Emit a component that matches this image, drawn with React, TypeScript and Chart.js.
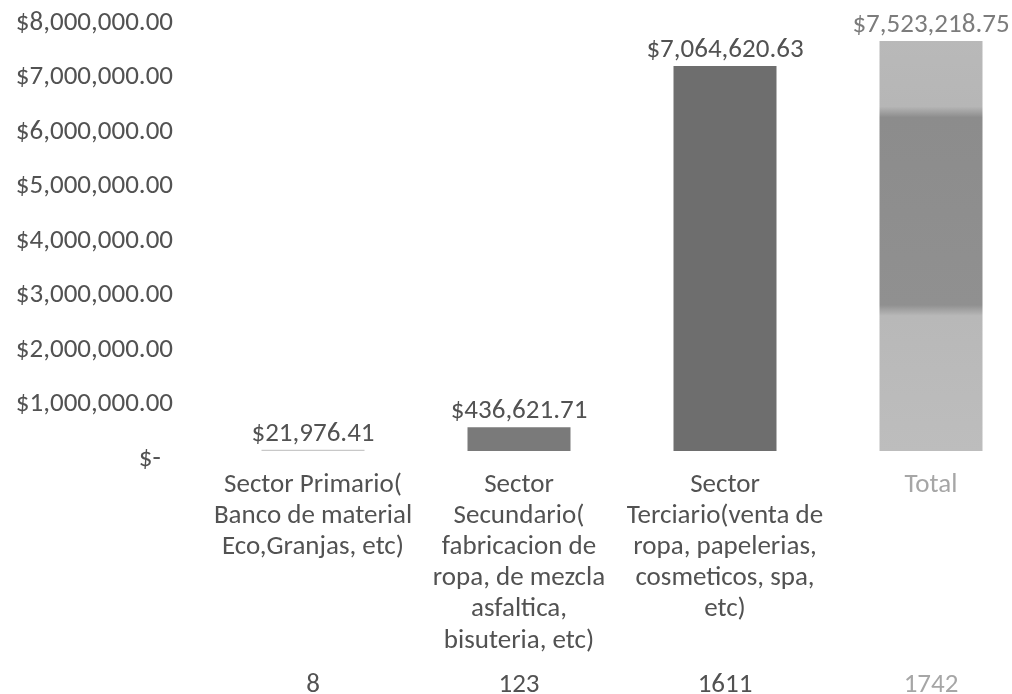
import React, { useEffect, useRef } from "react";
import { Chart, registerables } from "chart.js";

Chart.register(...registerables);

const categories: string[][] = [
  ["Sector Primario(", "Banco de material", "Eco,Granjas, etc)"],
  ["Sector", "Secundario(", "fabricacion de", "ropa, de mezcla", "asfaltica,", "bisuteria, etc)"],
  ["Sector", "Terciario(venta de", "ropa, papelerias,", "cosmeticos, spa,", "etc)"],
  ["Total"],
];
const amounts: number[] = [21976.41, 436621.71, 7064620.63, 7523218.75];
const counts: string[] = ["8", "123", "1611", "1742"];
const yMin = 0;
const yMax = 8000000;
const yStep = 1000000;

const FONT = "Carlito, 'Open Sans', sans-serif";
const SIZE = 27;
const TEXT = "#525252";
const FADED = "#a6a6a6";

const money = (v: number) =>
  "$" + v.toLocaleString("en-US", { minimumFractionDigits: 2, maximumFractionDigits: 2 });

const valueLabels = {
  id: "valueLabels",
  afterDatasetsDraw(chart: any) {
    const { ctx } = chart;
    const meta = chart.getDatasetMeta(0);
    ctx.save();
    ctx.font = `${SIZE}px ${FONT}`;
    ctx.textAlign = "center";
    ctx.textBaseline = "alphabetic";
    meta.data.forEach((el: any, i: number) => {
      ctx.fillStyle = i === 3 ? "#7c7c7c" : TEXT;
      ctx.fillText(money(amounts[i]), el.x, el.y - 9);
    });
    ctx.restore();
  },
};

export default function App() {
  const ref = useRef<HTMLCanvasElement | null>(null);
  useEffect(() => {
    if (!ref.current) return;
    const chart = new Chart(ref.current, {
      type: "bar",
      data: {
        labels: categories as any,
        datasets: [
          {
            data: amounts,
            backgroundColor: (ctx: any) => {
              const i = ctx.dataIndex;
              if (i === 0) return "#c8c8c8";
              if (i === 1) return "#7a7a7a";
              if (i === 2) return "#6e6e6e";
              const area = ctx.chart.chartArea;
              if (!area) return "#9c9c9c";
              const g = ctx.chart.ctx.createLinearGradient(0, area.top, 0, area.bottom);
              g.addColorStop(0, "#bababa");
              g.addColorStop(0.21, "#b6b6b6");
              g.addColorStop(0.235, "#8c8c8c");
              g.addColorStop(0.665, "#909090");
              g.addColorStop(0.69, "#b8b8b8");
              g.addColorStop(1, "#bdbdbd");
              return g;
            },
            barPercentage: 0.5,
            categoryPercentage: 1,
          },
        ],
      },
      options: {
        animation: false,
        responsive: true,
        maintainAspectRatio: false,
        layout: { padding: { top: 0, right: 11, bottom: 0, left: 0 } },
        plugins: { legend: { display: false }, tooltip: { enabled: false } },
        scales: {
          y: {
            min: yMin,
            max: yMax,
            grid: { display: false, drawTicks: false },
            border: { display: false },
            ticks: {
              stepSize: yStep,
              padding: 37,
              labelOffset: 8,
              color: TEXT,
              font: { family: FONT, size: SIZE },
              callback: (v: any) => (Number(v) === 0 ? "$-\u00a0\u00a0" : money(Number(v))),
            },
            afterFit: (s: any) => {
              s.width = 210;
              s.paddingTop = 15;
              s.paddingBottom = 0;
            },
          },
          x: {
            grid: { display: false, drawTicks: false },
            border: { display: false },
            ticks: {
              maxRotation: 0,
              autoSkip: false,
              padding: 19,
              color: (c: any) => (c.index === 3 ? FADED : TEXT),
              font: { family: FONT, size: SIZE, lineHeight: 1.15 },
            },
            afterFit: (s: any) => {
              s.height = 207;
            },
          },
          x2: {
            type: "category",
            labels: counts,
            position: "bottom",
            offset: true,
            grid: { display: false, drawTicks: false },
            border: { display: false },
            ticks: {
              padding: 12,
              color: (c: any) => (c.index === 3 ? FADED : TEXT),
              font: { family: FONT, size: SIZE, lineHeight: 1.15 },
            },
            afterFit: (s: any) => {
              s.height = 36;
            },
          },
        },
      } as any,
      plugins: [valueLabels],
    });
    return () => chart.destroy();
  }, []);

  return (
    <div
      style={{
        position: "absolute",
        left: 0,
        top: 0,
        width: 1012,
        height: 694,
        overflow: "hidden",
        background: "#fff",
      }}
    >
      <div style={{ position: "relative", width: 1045, height: 694 }}>
        <canvas ref={ref} />
      </div>
    </div>
  );
}
